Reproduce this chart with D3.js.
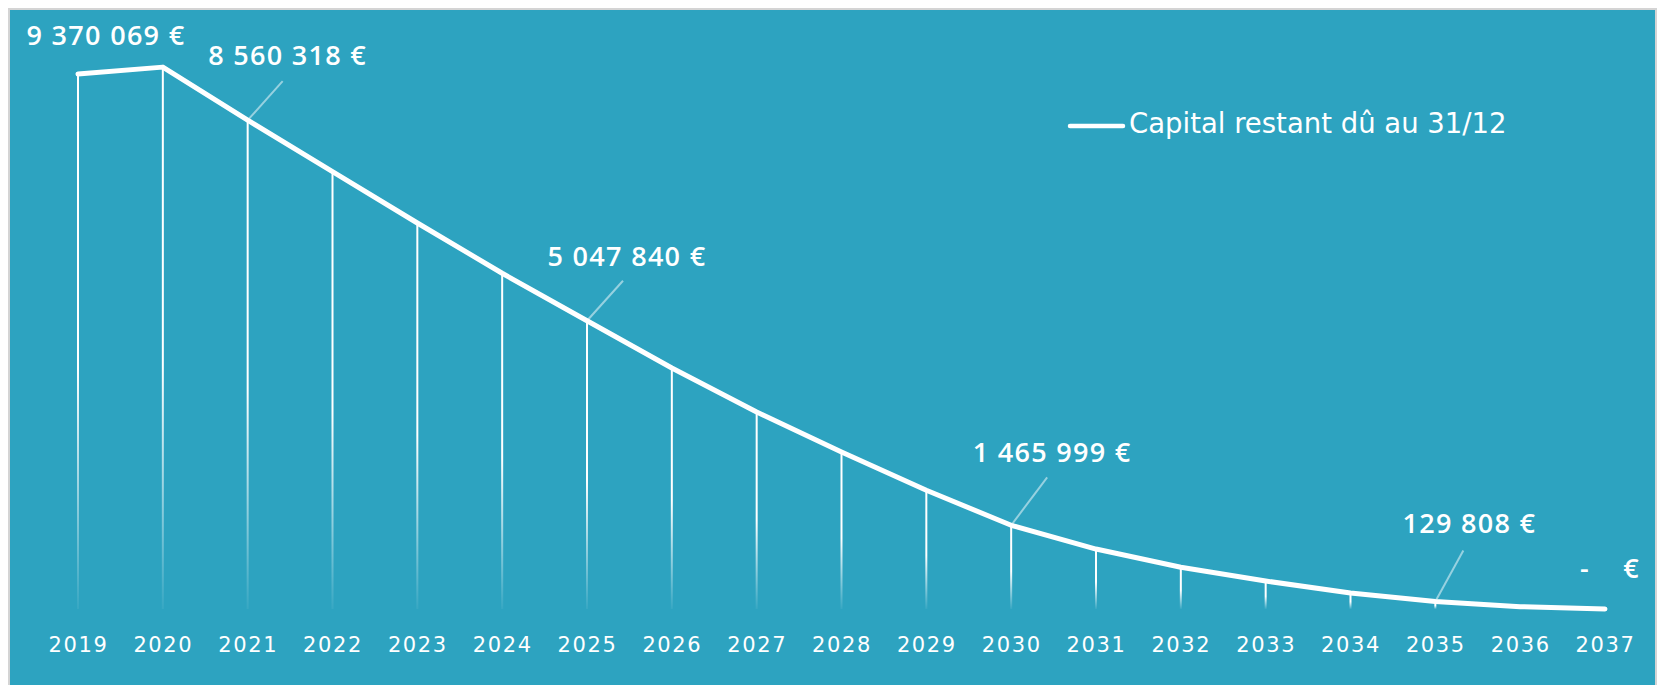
<!DOCTYPE html>
<html>
<head>
<meta charset="utf-8">
<script src="https://cdnjs.cloudflare.com/ajax/libs/d3/7.8.5/d3.min.js"></script>
<style>
  body { margin: 0; background: #fff; }
  .axis text { font-family: "DejaVu Sans", sans-serif; font-size: 21px; fill: #fff; letter-spacing: 1.6px; }
  .lbl { font-family: "Open Sans", sans-serif; font-weight: 600; font-size: 27px; fill: #fff; letter-spacing: 1.3px; white-space: pre; }
  .legend text { font-family: "DejaVu Sans", sans-serif; font-size: 27.5px; fill: #fff; }
</style>
</head>
<body>
<div id="chart"></div>
<script>
var years = ["2019", "2020", "2021", "2022", "2023", "2024", "2025", "2026", "2027", "2028",
             "2029", "2030", "2031", "2032", "2033", "2034", "2035", "2036", "2037"];
var capital = [9370069, 9490000, 8560318, 7660000, 6760000, 5880000, 5047840, 4220000, 3450000, 2750000,
               2080000, 1465999, 1050000, 730000, 490000, 280000, 129808, 40000, 0];
var labelled = ["2019", "2021", "2025", "2030", "2035", "2037"];
var labelText = ["9 370 069 €", "8 560 318 €", "5 047 840 €", "1 465 999 €", "129 808 €", "-    €"];
var seriesName = "Capital restant dû au 31/12";

// label offsets from the point: text dx, dy, leader start dx, dy (null = no leader)
var offsets = [[28, -29, null], [40, -55, [35, -39]], [40, -55, [36, -40]],
               [41, -63, [36, -48]], [34, -69, [28, -51]], [5, -31, null]];

var w = 1660,
    h = 685,
    bg = "#2da3c0";

var svg = d3.select("#chart").append("svg")
    .attr("width", w)
    .attr("height", h);

var defs = svg.append("defs");
var grad = defs.append("linearGradient")
    .attr("id", "fade")
    .attr("x1", 0).attr("y1", 0).attr("x2", 0).attr("y2", 1);
grad.append("stop").attr("offset", "0").attr("stop-color", "#fff").attr("stop-opacity", 1);
grad.append("stop").attr("offset", "0.55").attr("stop-color", "#fff").attr("stop-opacity", 1);
grad.append("stop").attr("offset", "1").attr("stop-color", "#fff").attr("stop-opacity", 0.05);

svg.append("rect")
    .attr("x", 9).attr("y", 9)
    .attr("width", 1647).attr("height", 690)
    .attr("fill", bg)
    .attr("stroke", "#d4d4d4")
    .attr("stroke-width", 2);

var x = d3.scalePoint().domain(years).range([78, 1605]);
var y = d3.scaleLinear().domain([0, 1e7]).range([609, 38]);

var pts = years.map(function(d, i) { return {year: d, value: capital[i]}; });

// drop lines
svg.append("g").selectAll("rect")
    .data(pts)
  .enter().append("rect")
    .attr("x", function(d) { return x(d.year) - 1; })
    .attr("y", function(d) { return y(d.value); })
    .attr("width", 2)
    .attr("height", function(d) { return Math.max(0.01, y(0) - y(d.value)); })
    .attr("fill", "url(#fade)");

// line
var line = d3.line()
    .x(function(d) { return x(d.year); })
    .y(function(d) { return y(d.value); });

svg.append("path")
    .datum(pts)
    .attr("d", line)
    .attr("fill", "none")
    .attr("stroke", "#fff")
    .attr("stroke-width", 5)
    .attr("stroke-linejoin", "round")
    .attr("stroke-linecap", "round");

// axis
var axis = svg.append("g")
    .attr("class", "axis")
    .attr("transform", "translate(0,652)")
    .call(d3.axisBottom(x).tickSize(0));
axis.select(".domain").remove();
axis.selectAll("text").attr("y", 0).attr("dy", 0);
axis.attr("font-family", null).attr("font-size", null);

// data labels
var labs = labelled.map(function(yr, i) {
  var j = years.indexOf(yr);
  return {px: x(yr), py: y(capital[j]), text: labelText[i], off: offsets[i]};
});

svg.append("g").selectAll("line")
    .data(labs.filter(function(d) { return d.off[2]; }))
  .enter().append("line")
    .attr("x1", function(d) { return d.px + d.off[2][0]; })
    .attr("y1", function(d) { return d.py + d.off[2][1]; })
    .attr("x2", function(d) { return d.px; })
    .attr("y2", function(d) { return d.py; })
    .attr("stroke", "rgba(255,255,255,0.5)")
    .attr("stroke-width", 2);

svg.append("g").selectAll("text")
    .data(labs)
  .enter().append("text")
    .attr("class", "lbl")
    .attr("text-anchor", "middle")
    .attr("x", function(d) { return d.px + d.off[0]; })
    .attr("y", function(d) { return d.py + d.off[1]; })
    .text(function(d) { return d.text; });

// legend
var legend = svg.append("g").attr("class", "legend");
legend.append("line")
    .attr("x1", 1070).attr("x2", 1123)
    .attr("y1", 126).attr("y2", 126)
    .attr("stroke", "#fff")
    .attr("stroke-width", 4.5)
    .attr("stroke-linecap", "round");
legend.append("text")
    .attr("x", 1129)
    .attr("y", 133)
    .text(seriesName);
</script>
</body>
</html>
